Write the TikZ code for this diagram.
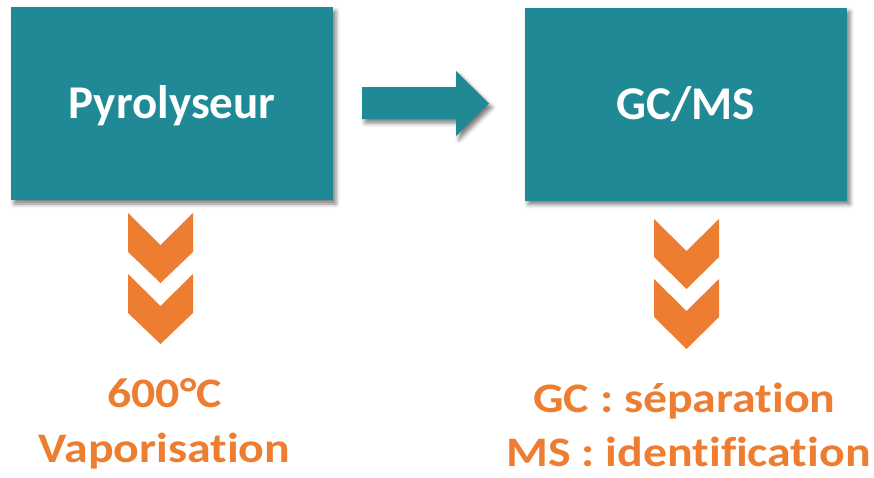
\documentclass[tikz,border=0pt]{standalone}
\usepackage{fontspec}
\setmainfont[RawFeature=-liga]{Carlito}
\newfontfamily\lblfont[RawFeature=-liga,FakeStretch=1.14]{Carlito}
\usetikzlibrary{shadows.blur}
\definecolor{teal}{RGB}{31,138,150}
\definecolor{orng}{RGB}{237,125,49}
\tikzset{
  shad/.style={blur shadow={shadow xshift=3pt, shadow yshift=-4pt, shadow blur radius=4pt, shadow opacity=50}},
  box/.style={fill=teal, draw=none, minimum width=322pt, minimum height=193pt, inner sep=0pt, shad},
  boxtext/.style={text=white, font=\bfseries\fontsize{47}{56}\selectfont, anchor=base, inner sep=0pt},
  lbl/.style={text=orng, font=\lblfont\bfseries\fontsize{42}{50}\selectfont, anchor=base, inner sep=0pt},
  chev/.style={fill=orng, draw=none},
  bigarrow/.style={fill=teal, draw=none, shad}
}
\begin{document}
\begin{tikzpicture}[x=1pt,y=-1pt]
\useasboundingbox (0,0) rectangle (874,477);
\node[box] (pyro) at (172,103.5) {};
\node[box] (gcms) at (686,104) {};
\node[boxtext] (pyrot) at (172,118) {Pyrolyseur};
\node[boxtext] (gcmst) at (686,119) {GC/MS};
% big arrow
\path[bigarrow] (362,87) -- (456,87) -- (456,71) -- (489,103.5) -- (456,136) -- (456,119) -- (362,119) -- cycle;
% left chevrons
\path[chev] (128,213) -- (160.5,245) -- (193,213) -- (193,252) -- (160.5,283) -- (128,252) -- cycle;
\path[chev] (128,274) -- (160.5,306) -- (193,274) -- (193,313) -- (160.5,344) -- (128,313) -- cycle;
% right chevrons
\path[chev] (654,219) -- (686.5,251) -- (719,219) -- (719,257) -- (686.5,289) -- (654,257) -- cycle;
\path[chev] (654,279) -- (686.5,311) -- (719,279) -- (719,317) -- (686.5,349) -- (654,317) -- cycle;
\node[lbl] (temp) at (164.5,407) {600°C};
\node[lbl] (vap) at (164.5,462) {Vaporisation};
\node[lbl] (gcl) at (684.5,412) {GC : séparation};
\node[lbl] (msl) at (688.5,466) {MS : identification};
\end{tikzpicture}
\end{document}
